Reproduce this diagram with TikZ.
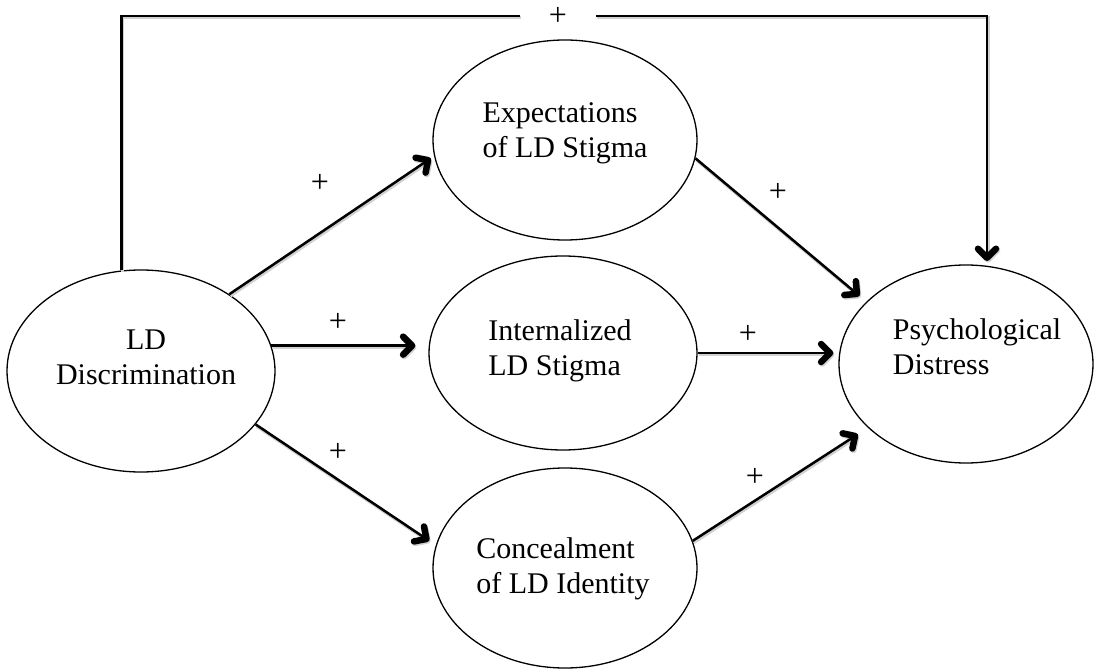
\documentclass[tikz,border=0pt]{standalone}
\usepackage{fontspec}
\setmainfont{Liberation Serif}
\usetikzlibrary{shapes.geometric,arrows.meta}
\begin{document}
\begin{tikzpicture}[x=1pt,y=-1pt,
  oval/.style={draw, ellipse, line width=1.3pt, inner sep=0pt},
  lbl/.style={font=\fontsize{30}{35}\selectfont, inner sep=0pt},
  plus/.style={font=\fontsize{32}{32}\selectfont, inner sep=1pt},
  head/.tip={Straight Barb[length=9pt,width=18pt,line width=6.5pt 0 0,round]},
  conn/.style={line width=2.5pt, -head,
    preaction={draw=black!18, line width=3.5pt, -head, transform canvas={xshift=1pt,yshift=-1.5pt}}},
  plain/.style={line width=2.5pt,
    preaction={draw=black!18, line width=3.5pt, transform canvas={xshift=1pt,yshift=-1.5pt}}},
]
\useasboundingbox (0,0) rectangle (1096,671);
% ellipses
\node[oval, minimum width=268pt, minimum height=202pt] (ld)  at (141,371) {};
\node[oval, minimum width=264pt, minimum height=200pt] (exp) at (565,140) {};
\node[oval, minimum width=268pt, minimum height=194pt] (int) at (563,353) {};
\node[oval, minimum width=264pt, minimum height=200pt] (con) at (565,568) {};
\node[oval, minimum width=254pt, minimum height=198pt] (pd)  at (966,364) {};
% texts
\node[lbl, align=center] (ldt)  at (146,357) {LD\\Discrimination};
\node[lbl, align=left]   (expt) at (565,133) {Expectations\\of LD Stigma};
\node[lbl, align=left]   (intt) at (560,351) {Internalized\\LD Stigma};
\node[lbl, align=left]   (cont) at (563,569) {Concealment\\of LD Identity};
\node[lbl, align=left]   (pdt)  at (977,347) {Psychological\\Distress};
% connectors
\draw[conn, shorten >=4pt] (ld.41) -- (exp.187);
\draw[conn, shorten >=13pt] (ld.11) -- (ld.11 -| int.west);
\draw[conn, shorten >=8pt] (ld.-25) -- (con.170);
\draw[conn, shorten >=9pt] (exp.-8) -- (pd.148);
\draw[conn, shorten >=5pt] (int.east) -- (int.east -| pd.west);
\draw[conn, shorten >=12pt] (con.12) -- (pd.213);
% top path
\node[plus, minimum width=75pt] (topplus) at (558,16) {+};
\coordinate (pdtop) at (987,266);
\draw[plain] (ld.101) |- (topplus.west);
\draw[conn, shorten >=5pt] (topplus.east) -| (pdtop);
% plus signs
\node[plus] (p1) at (320,183) {+};
\node[plus] (p2) at (338,322) {+};
\node[plus] (p3) at (338,452) {+};
\node[plus] (p4) at (778,192) {+};
\node[plus] (p5) at (748,334) {+};
\node[plus] (p6) at (755,477) {+};
\end{tikzpicture}
\end{document}
